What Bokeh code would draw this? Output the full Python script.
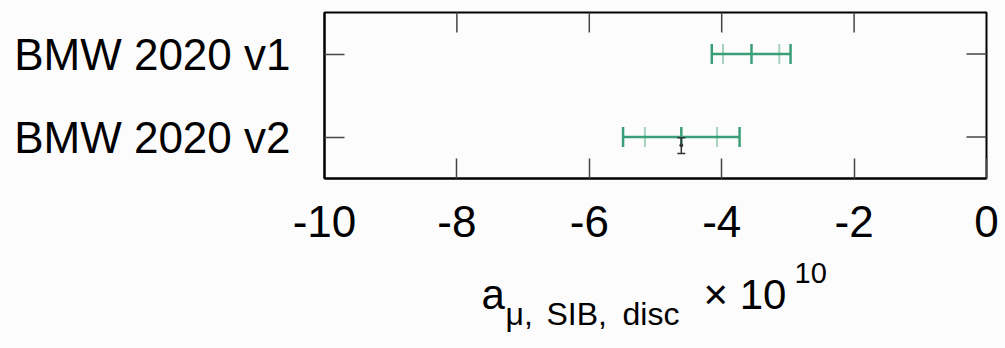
import math
from bokeh.plotting import figure
from bokeh.layouts import column
from bokeh.models import FixedTicker, Range1d, ColumnDataSource
from bokeh.embed import file_html
from bokeh.resources import INLINE
from bokeh.core.properties import value

# ---- data ----
labels = ["BMW 2020 v1", "BMW 2020 v2"]
center = [-3.55, -4.61]
outer_lo = [-4.15, -5.49]
outer_hi = [-2.96, -3.73]
inner_lo = [-3.98, -5.16]
inner_hi = [-3.13, -4.07]
x_ticks = [-10, -8, -6, -4, -2, 0]
x_tick_labels = ["-10", "-8", "-6", "-4", "-2", "0"]
ref_x = [-4.61]          # small black reference point on the v2 row

GREEN = "#3a9f78"
FONT = "Liberation Sans"
BG = "#fdfcfd"
TICK = "#444444"

n = len(labels)
ypos = [n - i - 0.5 for i in range(n)]

FL, FR = 324, 986   # frame left / right (canvas px)
H1 = 256
p = figure(width=1005, height=H1, output_backend="svg", toolbar_location=None,
           x_range=Range1d(-10, 0), y_range=Range1d(0, n),
           min_border_left=FL, min_border_right=1005 - FR, min_border_top=12, min_border_bottom=H1 - 178,
           background_fill_color=BG, border_fill_color=BG)
p.grid.visible = False
p.outline_line_color = "black"
p.outline_line_width = 2

# bottom axis
xa = p.xaxis[0]
xa.ticker = FixedTicker(ticks=x_ticks)
xa.major_label_overrides = {t: s for t, s in zip(x_ticks, x_tick_labels)}
xa.minor_tick_line_color = None
xa.major_tick_in = 20
xa.major_tick_out = 0
xa.major_label_standoff = 27
xa.major_label_text_font = FONT
xa.major_label_text_font_size = "44px"
xa.major_label_text_color = "black"
xa.axis_line_color = "black"
xa.axis_line_width = 2
xa.major_tick_line_color = TICK
xa.major_tick_line_width = 1.5

# left axis
ya = p.yaxis[0]
ya.ticker = FixedTicker(ticks=ypos)
ya.major_label_overrides = {y: lab for y, lab in zip(ypos, labels)}
ya.minor_tick_line_color = None
ya.major_tick_in = 20
ya.major_tick_out = 0
ya.major_label_standoff = 34
ya.major_label_text_font = FONT
ya.major_label_text_font_size = "44px"
ya.major_label_text_color = "black"
ya.axis_line_color = "black"
ya.axis_line_width = 2
ya.major_tick_line_color = TICK
ya.major_tick_line_width = 1.5

# mirrored inward ticks on top and right edges (dash markers clipped by the frame)
p.scatter(x=x_ticks[1:-1], y=[n] * (len(x_ticks) - 2), marker="dash", angle=math.pi / 2, size=40,
          line_color=TICK, line_width=1.5)
p.scatter(x=[0] * n, y=ypos, marker="dash", size=40, line_color=TICK, line_width=1.5)

# error bars
src = ColumnDataSource(dict(y=ypos, c=center, lo=outer_lo, hi=outer_hi, ilo=inner_lo, ihi=inner_hi))
p.segment(x0="lo", y0="y", x1="hi", y1="y", source=src, line_color=GREEN, line_width=2.5)
for col in ("lo", "hi", "c"):
    p.scatter(x=col, y="y", source=src, marker="dash", angle=math.pi / 2, size=20,
              line_color=GREEN, line_width=2.5)
for col in ("ilo", "ihi"):
    p.scatter(x=col, y="y", source=src, marker="dash", angle=math.pi / 2, size=20,
              line_color=GREEN, line_width=2, line_alpha=0.45)

# small black reference mark
yr = ypos[1]
rsrc = ColumnDataSource(dict(x=ref_x, y0=[yr - 0.01], y1=[yr - 0.2], ym=[yr - 0.1]))
p.segment(x0="x", y0="y0", x1="x", y1="y1", source=rsrc, line_color="#333333", line_width=1.5)
p.scatter(x="x", y="y0", source=rsrc, marker="dash", size=8, line_color="#333333", line_width=1.5)
p.scatter(x="x", y="y1", source=rsrc, marker="dash", size=8, line_color="#333333", line_width=1.5)
p.scatter(x="x", y="ym", source=rsrc, marker="circle", size=3, fill_color="#333333", line_color="#333333")

# ---- axis title strip: a_{mu, SIB, disc} x 10^10 ----
H2 = 348 - H1
t = figure(width=1005, height=H2, output_backend="svg", toolbar_location=None,
           x_range=Range1d(FL, FR), y_range=Range1d(H2, 0),
           x_axis_type=None, y_axis_type=None,
           min_border_left=FL, min_border_right=1005 - FR, min_border_top=0, min_border_bottom=0,
           background_fill_color=BG, border_fill_color=BG, outline_line_color=None)
t.grid.visible = False

def txt(s, cx, cy, size):
    t.text(x=[cx], y=[cy - H1], text=[s], text_font=value(FONT), text_font_size=size,
           text_color="black", text_baseline="alphabetic", text_align="left")

txt("a", 481, 294, "42px")
txt("\u03bc,", 505, 313, "32px")
txt("SIB,", 546, 313, "32px")
txt("disc", 622, 313, "32px")
txt("\u00d7 10", 703, 294, "42px")
txt("10", 794, 272, "29px")

layout = column(p, t, spacing=0)
open("out.html", "w").write(file_html(layout, INLINE))
